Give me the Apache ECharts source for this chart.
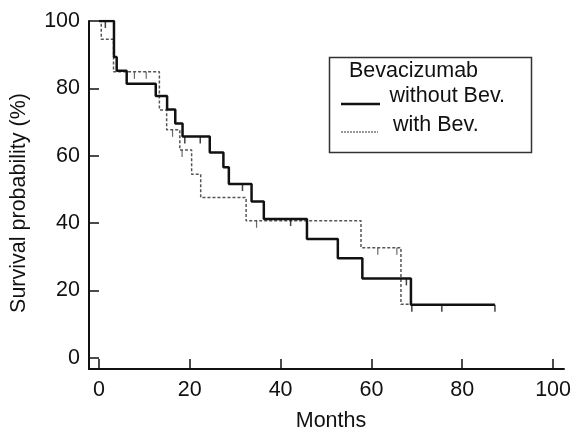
<!DOCTYPE html>
<html>
<head>
<meta charset="utf-8">
<script src="https://cdn.jsdelivr.net/npm/echarts@6/dist/echarts.min.js"></script>
<style>html,body{margin:0;padding:0;background:#fff}#c{width:574px;height:434px}</style>
</head>
<body>
<div id="c"></div>
<script>
// Kaplan-Meier steps: without Bevacizumab (solid)
const withoutTimes = [0, 3.3, 3.9, 6.1, 12.5, 15.0, 16.8, 18.4, 24.4, 27.4, 28.6, 33.6, 36.3, 45.8, 52.6, 58.0, 68.7, 87.2];
const withoutSurv  = [100, 89.3, 85.2, 81.4, 77.7, 73.7, 69.6, 65.7, 61.0, 56.6, 51.6, 46.4, 41.2, 35.3, 29.6, 23.6, 15.8, 15.8];
const withoutCensT = [1.4, 18.9, 22.3, 31.6, 42.2, 67.7, 68.9, 75.5, 87.2];
const withoutCensS = [100, 65.7, 65.7, 51.6, 41.2, 23.6, 15.8, 15.8, 15.8];
// with Bevacizumab (dashed)
const withTimes = [0, 0.5, 3.2, 13.3, 14.9, 17.8, 20.4, 22.4, 32.4, 57.7, 66.5, 68.7];
const withSurv  = [100, 94.6, 84.9, 73.6, 67.7, 61.7, 54.5, 47.6, 40.7, 32.7, 15.9, 15.9];
const withCensT = [7.8, 10.4, 16.2, 18.3, 34.7, 61.4, 65.6];
const withCensS = [84.9, 84.9, 67.7, 61.7, 40.7, 32.7, 32.7];
// axis ticks
const xTicks = [0, 20, 40, 60, 80, 100];
const yTicks = [0, 20, 40, 60, 80, 100];
const legendTitle = 'Bevacizumab';
const legendNames = ['without Bev.', 'with Bev.'];
const xTitle = 'Months';
const yTitle = 'Survival probability (%)';

const pairs = (a, b) => a.map((v, i) => [v, b[i]]);
const FONT = 'Liberation Sans, Arial, sans-serif';
const INK = '#111';

const chart = echarts.init(document.getElementById('c'), null, {renderer: 'canvas'});
const axisCommon = {
  type: 'value',
  splitLine: {show: false},
  axisLine: {show: true, onZero: false, lineStyle: {color: INK, width: 2}},
  axisTick: {show: true, inside: true, length: 10, lineStyle: {color: INK, width: 1.5}},
  axisLabel: {show: true, color: INK, fontSize: 21.5, fontFamily: FONT, margin: 9}
};
chart.setOption({
  animation: false,
  backgroundColor: '#fff',
  grid: {left: 89, right: 9, top: 21, bottom: 65, containLabel: false},
  xAxis: Object.assign({}, axisCommon, {
    min: -2.2, max: 102.4,
    axisTick: Object.assign({}, axisCommon.axisTick, {customValues: xTicks}),
    axisLabel: Object.assign({}, axisCommon.axisLabel, {customValues: xTicks, margin: 10})
  }),
  yAxis: Object.assign({}, axisCommon, {
    min: -3.3, max: 100,
    axisTick: Object.assign({}, axisCommon.axisTick, {customValues: yTicks}),
    axisLabel: Object.assign({}, axisCommon.axisLabel, {customValues: yTicks})
  }),
  series: [
    {type: 'line', name: legendNames[1], step: 'end', showSymbol: false, z: 2,
     data: pairs(withTimes, withSurv),
     lineStyle: {color: '#555', width: 1.5, type: [3, 2]}},
    {type: 'line', name: legendNames[0], step: 'end', showSymbol: false, z: 3,
     data: pairs(withoutTimes, withoutSurv),
     lineStyle: {color: INK, width: 2.5}},
    {type: 'scatter', z: 4, data: pairs(withoutCensT, withoutCensS),
     symbol: 'rect', symbolSize: [1.5, 7], symbolOffset: [0, 3.5],
     itemStyle: {color: INK}},
    {type: 'scatter', z: 4, data: pairs(withCensT, withCensS),
     symbol: 'rect', symbolSize: [1.2, 7], symbolOffset: [0, 3.5],
     itemStyle: {color: '#444'}}
  ],
  graphic: [
    {type: 'rect', shape: {x: 329.5, y: 57.5, width: 202, height: 95},
     style: {fill: '#fff', stroke: '#333', lineWidth: 1.5}, z: 10},
    {type: 'text', x: 349, y: 71, z: 11,
     style: {text: legendTitle, font: '21.5px ' + FONT, fill: INK, textAlign: 'left', textVerticalAlign: 'middle'}},
    {type: 'line', shape: {x1: 341, y1: 104, x2: 380, y2: 104}, z: 11,
     style: {stroke: INK, lineWidth: 2.5}},
    {type: 'text', x: 389.5, y: 96.5, z: 11,
     style: {text: legendNames[0], font: '21.5px ' + FONT, fill: INK, textAlign: 'left', textVerticalAlign: 'middle'}},
    {type: 'line', shape: {x1: 341, y1: 132, x2: 378, y2: 132}, z: 11,
     style: {stroke: '#333', lineWidth: 1, lineDash: [2, 1]}},
    {type: 'text', x: 393, y: 125.5, z: 11,
     style: {text: legendNames[1], font: '21.5px ' + FONT, fill: INK, textAlign: 'left', textVerticalAlign: 'middle'}},
    {type: 'text', x: 331, y: 421.5, z: 11,
     style: {text: xTitle, font: '21.5px ' + FONT, fill: INK, textAlign: 'center', textVerticalAlign: 'middle'}},
    {type: 'text', x: 19, y: 203, rotation: Math.PI / 2, z: 11,
     style: {text: yTitle, font: '21.5px ' + FONT, fill: INK, textAlign: 'center', textVerticalAlign: 'middle'}}
  ]
});
</script>
</body>
</html>
